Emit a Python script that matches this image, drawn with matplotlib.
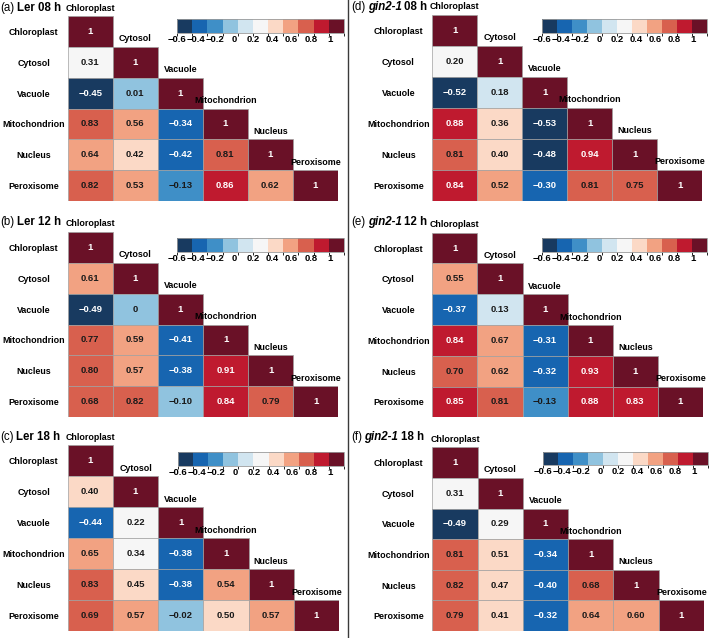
"""Six triangular correlation heatmaps of organelle signals (Ler / gin2-1)."""

import numpy as np
import matplotlib

matplotlib.use("Agg")
import matplotlib.pyplot as plt
from matplotlib.cm import ScalarMappable
from matplotlib.colors import BoundaryNorm, ListedColormap
from matplotlib.lines import Line2D

plt.rcParams["font.family"] = ["Liberation Sans Narrow", "Liberation Sans", "DejaVu Sans"]

# --------------------------------------------------------------------------- #
# Data (lower triangle, row-wise, diagonal = 1)
# --------------------------------------------------------------------------- #
organelles = ["Chloroplast", "Cytosol", "Vacuole", "Mitochondrion", "Nucleus", "Peroxisome"]

ler_08 = [[0.31], [-0.45, 0.01], [0.83, 0.56, -0.34],
          [0.64, 0.42, -0.42, 0.81], [0.82, 0.53, -0.13, 0.86, 0.62]]
ler_12 = [[0.61], [-0.49, 0.0], [0.77, 0.59, -0.41],
          [0.80, 0.57, -0.38, 0.91], [0.68, 0.82, -0.10, 0.84, 0.79]]
ler_18 = [[0.40], [-0.44, 0.22], [0.65, 0.34, -0.38],
          [0.83, 0.45, -0.38, 0.54], [0.69, 0.57, -0.02, 0.50, 0.57]]
gin_08 = [[0.20], [-0.52, 0.18], [0.88, 0.36, -0.53],
          [0.81, 0.40, -0.48, 0.94], [0.84, 0.52, -0.30, 0.81, 0.75]]
gin_12 = [[0.55], [-0.37, 0.13], [0.84, 0.67, -0.31],
          [0.70, 0.62, -0.32, 0.93], [0.85, 0.81, -0.13, 0.88, 0.831]]
gin_18 = [[0.31], [-0.49, 0.29], [0.81, 0.51, -0.34],
          [0.82, 0.47, -0.40, 0.68], [0.79, 0.41, -0.32, 0.64, 0.60]]

cbar_ticks = [-0.6, -0.4, -0.2, 0, 0.2, 0.4, 0.6, 0.8, 1]
cbar_labels = ["\u22120.6", "\u22120.4", "\u22120.2", "0", "0.2", "0.4", "0.6", "0.8", "1"]

colors = ["#183a60", "#1765b0", "#3f8fc7", "#90c3df", "#d1e5f0", "#f6f6f6",
          "#fbd9c6", "#f2a282", "#d8604e", "#bf1a2f", "#6a1127"]
bounds = np.linspace(-0.604, 1.149, len(colors) + 1)

# panel id, strain, time, lower triangle, grid box (px: x0, y0, x1, y1),
# colourbar box (px), title anchor (px)
panels = [
    ("(a)", "Ler", "08 h", ler_08, (67.7, 16.0, 338.0, 201.0), (177, 19, 344, 33), (0, 8)),
    ("(b)", "Ler", "12 h", ler_12, (67.7, 231.7, 338.3, 417.3), (177, 238, 344, 252), (0, 222)),
    ("(c)", "Ler", "18 h", ler_18, (67.7, 445.0, 339.0, 631.0), (178, 452, 344, 466), (0, 437)),
    ("(d)", "gin2-1", "08 h", gin_08, (432.3, 14.7, 702.5, 201.0), (542, 19, 707, 33), (351, 7)),
    ("(e)", "gin2-1", "12 h", gin_12, (432.3, 232.7, 703.0, 417.3), (542, 238, 707, 252), (351, 222)),
    ("(f)", "gin2-1", "18 h", gin_18, (432.3, 447.3, 704.0, 631.0), (543, 452, 708, 465), (351, 437)),
]

W, H = 709, 638
FS = 6.8       # cell values and colourbar ticks
FS_LAB = 6.4   # organelle names


def full_matrix(lower):
    n = len(organelles)
    m = np.full((n, n), np.nan)
    for i in range(n):
        m[i, i] = 1.0
    for i, row in enumerate(lower, start=1):
        for j, v in enumerate(row):
            m[i, j] = v
    return m


def fmt(v):
    if v == 1:
        return "1"
    if v == 0:
        return "0"
    return f"{v:.2f}".replace("-", "\u2212")


def px_box(box):
    x0, y0, x1, y1 = box
    return [x0 / W, 1 - y1 / H, (x1 - x0) / W, (y1 - y0) / H]


cmap = ListedColormap(colors)
norm = BoundaryNorm(bounds, cmap.N)
sm = ScalarMappable(norm=norm, cmap=cmap)

fig = plt.figure(figsize=(W / 100, H / 100), dpi=100, facecolor="white")
renderer = fig.canvas.get_renderer()

for pid, strain, time, lower, grid_box, cbar_box, title_xy in panels:
    m = full_matrix(lower)
    n = len(organelles)
    ax = fig.add_axes(px_box(grid_box))
    for i in range(n):
        vals = m[i, : i + 1]
        ax.bar(np.arange(i + 1), 1.0, bottom=i - 0.5, width=1.0,
               color=[cmap(norm(v)) for v in vals], edgecolor="#a0a0a0", linewidth=0.5)
    ax.set_xlim(-0.5, n - 0.5)
    ax.set_ylim(n - 0.5, -0.5)
    for s in ax.spines.values():
        s.set_visible(False)
    ax.set_xticks([])
    ax.set_yticks(range(n), organelles, fontsize=FS_LAB, fontweight="bold", ha="center")
    ax.tick_params(axis="y", length=0, pad=24.5)
    ax.patch.set_alpha(0)

    for j, name in enumerate(organelles):
        ax.annotate(name, xy=(j, j - 0.5), xytext=(0, 2.5), textcoords="offset points",
                    ha="center", va="bottom", fontsize=FS_LAB, fontweight="bold")
    for i in range(n):
        for j in range(i + 1):
            v = m[i, j]
            k = int(norm(v))
            tc = "white" if k in (0, 1, 9, 10) else "#1a1a1a"
            ax.text(j, i, fmt(v), ha="center", va="center", fontsize=FS,
                    fontweight="bold", color=tc)

    cax = fig.add_axes(px_box(cbar_box))
    cb = fig.colorbar(sm, cax=cax, orientation="horizontal", ticks=cbar_ticks,
                      spacing="proportional")
    cb.set_ticklabels(cbar_labels)
    cb.ax.tick_params(length=0, pad=1.5, labelsize=FS)
    for lab in cb.ax.get_xticklabels():
        lab.set_fontweight("bold")
    cb.outline.set_edgecolor("#9a9a9a")
    cb.outline.set_linewidth(0.6)

    # title: regular "(x)", bold strain (italic for the mutant), bold time
    x, y = title_xy
    parts = [(pid, "normal", "normal", 2.5)]
    if strain == "Ler":
        parts.append((strain + " " + time, "bold", "normal", 0))
    else:
        parts.append((strain, "bold", "italic", 2.5))
        parts.append((time, "bold", "normal", 0))
    for txt, weight, style, gap in parts:
        t = fig.text(x / W, 1 - y / H, txt, fontsize=8.3, fontweight=weight, fontstyle=style,
                     ha="left", va="center", family=["Liberation Sans", "DejaVu Sans"])
        x += t.get_window_extent(renderer).width + gap

fig.add_artist(Line2D([347.5 / W, 347.5 / W], [0, 1], color="#3a3a3a", linewidth=1.0))

fig.savefig("out.png", dpi=100)
